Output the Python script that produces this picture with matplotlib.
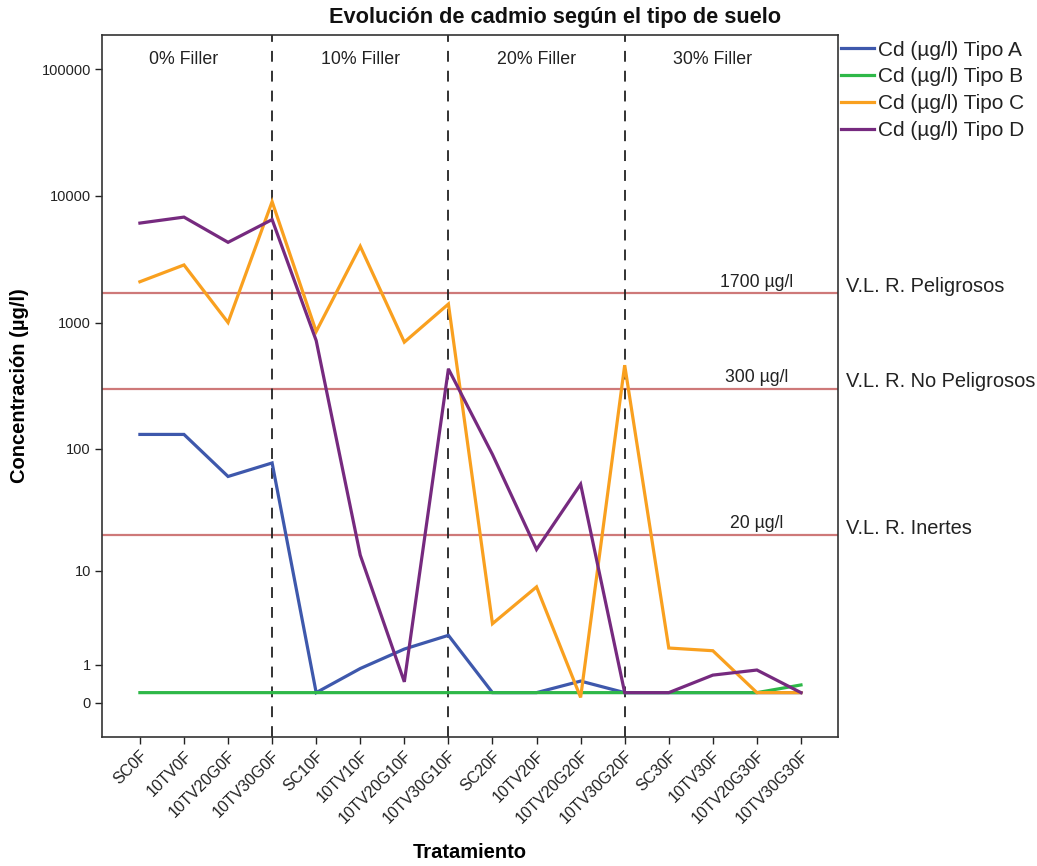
import numpy as np
import matplotlib
matplotlib.use('Agg')
import matplotlib.pyplot as plt
from matplotlib import transforms

plt.rcParams['font.family'] = ['Liberation Sans', 'DejaVu Sans']

categories = ['SC0F', '10TV0F', '10TV20G0F', '10TV30G0F',
              'SC10F', '10TV10F', '10TV20G10F', '10TV30G10F',
              'SC20F', '10TV20F', '10TV20G20F', '10TV30G20F',
              'SC30F', '10TV30F', '10TV20G30F', '10TV30G30F']

tipo_a = [130, 130, 60, 77, 0.2, 0.86, 1.65, 2.4, 0.2, 0.2, 0.48, 0.2, 0.2, 0.2, 0.2, 0.2]
tipo_b = [0.2, 0.2, 0.2, 0.2, 0.2, 0.2, 0.2, 0.2, 0.2, 0.2, 0.2, 0.2, 0.2, 0.2, 0.2, 0.38]
tipo_c = [2100, 2850, 1000, 9000, 850, 4000, 700, 1400, 3.2, 7.2, 0.1, 460, 1.7, 1.57, 0.2, 0.2]
tipo_d = [6100, 6800, 4300, 6500, 720, 13.6, 0.46, 430, 90, 15.2, 52, 0.2, 0.2, 0.65, 0.81, 0.2]

series_names = ['Cd (µg/l) Tipo A', 'Cd (µg/l) Tipo B', 'Cd (µg/l) Tipo C', 'Cd (µg/l) Tipo D']
series_colors = ['#3E58AC', '#2EB848', '#F9A01F', '#762A7F']

thresholds = [1700, 300, 20]
threshold_values_text = ['1700 µg/l', '300 µg/l', '20 µg/l']
threshold_names = ['V.L. R. Peligrosos', 'V.L. R. No Peligrosos', 'V.L. R. Inertes']

section_labels = ['0% Filler', '10% Filler', '20% Filler', '30% Filler']
section_label_cats = ['10TV0F', '10TV10F', '10TV20F', '10TV30F']
section_bounds = ['10TV30G0F', '10TV30G10F', '10TV30G20F']

yticks = [0, 1, 10, 100, 1000, 10000, 100000]


def fwd(v):
    v = np.asarray(v, dtype=float)
    return np.log10(np.maximum(v + 1.0, 1e-12))


def inv(t):
    return 10.0 ** np.asarray(t, dtype=float) - 1.0


fig = plt.figure(figsize=(10.37, 8.66), dpi=100)
ax = fig.add_axes([102 / 1037, 1 - 737 / 866, (838 - 102) / 1037, (737 - 35) / 866])
ax.set_yscale('function', functions=(fwd, inv))

x = np.arange(len(categories))
for vals, name, col in zip([tipo_a, tipo_b, tipo_c, tipo_d], series_names, series_colors):
    ax.plot(x, vals, color=col, lw=2.3, label=name, solid_joinstyle='miter', zorder=3)

ax.set_xlim(-0.86, 15.84)
ax.set_ylim(inv(-0.271), inv(5.27))
ax.set_yticks(yticks)
ax.set_yticklabels([str(t) for t in yticks])
ax.yaxis.set_minor_locator(matplotlib.ticker.NullLocator())
ax.set_xticks(x)
ax.set_xticklabels(categories, rotation=45, ha='right', va='top', rotation_mode='anchor')
ax.tick_params(axis='both', direction='out', length=5, width=1, colors='#222222', pad=3)
ax.tick_params(axis='y', labelsize=10.5)
ax.tick_params(axis='x', labelsize=11.5)

for s in ax.spines.values():
    s.set_color('#333333')
    s.set_linewidth(1.2)

# section boundaries
for b in section_bounds:
    ax.axvline(categories.index(b), color='#222222', lw=1.3, ls=(0, (6, 5)), zorder=2)

# section labels
for lab, c in zip(section_labels, section_label_cats):
    ax.text(categories.index(c), 0.965, lab, transform=ax.get_xaxis_transform(),
            ha='center', va='center', fontsize=12.8, color='#222222')

# threshold lines
trans_r = transforms.blended_transform_factory(ax.transAxes, ax.transData)
for t, vt, nm in zip(thresholds, threshold_values_text, threshold_names):
    ax.axhline(t, color='#C96B6B', lw=1.6, alpha=0.9, zorder=1)
    ax.annotate(vt, xy=(14.0, t), xytext=(0, 2), textcoords='offset points',
                ha='center', va='bottom', fontsize=12.7, color='#222222')
    ax.annotate(nm, xy=(1.011, t), xycoords=trans_r, xytext=(0, 5), textcoords='offset points',
                ha='left', va='center', fontsize=14.4, color='#222222', annotation_clip=False)

leg = ax.legend(loc='upper left', bbox_to_anchor=(1.004, 0.992), frameon=False,
                fontsize=15, handlelength=1.6, handletextpad=0.2, labelspacing=0.375,
                borderaxespad=0, borderpad=0)
for t in leg.get_texts():
    t.set_color('#222222')

fig.text(555 / 1037, 1 - 18 / 866, 'Evolución de cadmio según el tipo de suelo',
         ha='center', va='center', fontsize=15.7, fontweight='bold', color='#111111')
ax.set_ylabel('Concentración (µg/l)', fontsize=14.5, fontweight='bold')
ax.set_xlabel('Tratamiento', fontsize=14.5, fontweight='bold')
ax.yaxis.set_label_coords((20 - 102) / 736, 0.5)
ax.xaxis.set_label_coords(0.5, (737 - 853) / 702)
ax.xaxis.label.set_va('center')
ax.yaxis.label.set_va('center')

fig.savefig('out.png', dpi=100, facecolor='white')
